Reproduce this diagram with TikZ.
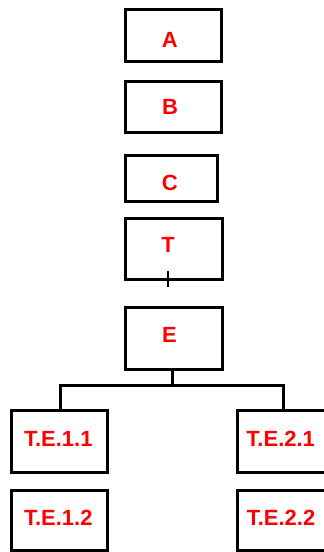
\documentclass[tikz,border=0pt]{standalone}
\usepackage{fontspec}
\setmainfont{Liberation Sans}
\begin{document}
\begin{tikzpicture}[x=1pt,y=-1pt,
  box/.style={draw=black,line width=3pt,fill=white,minimum width=#1,inner sep=0pt,outer sep=0pt},
  lbl/.style={text=red,font=\fontsize{22}{26}\selectfont\bfseries,inner sep=0pt},
  wire/.style={draw=black,line width=3pt}]
\useasboundingbox (0,0) rectangle (324,552);
\clip (0,0) rectangle (324,552);
% upper column of boxes
\node[box=95.5pt,minimum height=52pt] (A) at (173.25,35.5) {};
\node[box=95.5pt,minimum height=51pt] (B) at (173.25,107) {};
\node[box=92pt,minimum height=46pt] (C) at (171.5,178.5) {};
\node[box=97pt,minimum height=61pt] (T) at (174,249) {};
\node[box=97pt,minimum height=62pt] (E) at (174,338.5) {};
% lower pairs
\node[box=96pt,minimum height=62pt] (T11) at (59.5,441.5) {};
\node[box=96pt,minimum height=60pt] (T12) at (59.5,520.5) {};
\node[box=96pt,minimum height=62pt] (T21) at (285.5,441.5) {};
\node[box=96pt,minimum height=60pt] (T22) at (285.5,520.5) {};
% labels
\node[lbl] (tA) at (169.7,39.8) {A};
\node[lbl] (tB) at (170,106.7) {B};
\node[lbl] (tC) at (169.7,182.5) {C};
\node[lbl] (tT) at (168,245) {T};
\node[lbl] (tE) at (169.5,334.5) {E};
\node[lbl] (t11) at (58.3,438.5) {T.E.1.1};
\node[lbl] (t12) at (58.3,517.5) {T.E.1.2};
\node[lbl] (t21) at (280.7,438.5) {T.E.2.1};
\node[lbl] (t22) at (281,517.5) {T.E.2.2};
% short mark across the bottom edge of T
\coordinate (tk1) at (168,271);
\coordinate (tk2) at (168,287);
\draw[line width=2pt] (tk1) -- (tk2);
% branching from E to its two children
\coordinate (jn) at (172,385.5);
\draw[wire] (E.south -| jn) -- (jn);
\draw[wire] ([xshift=0.5pt]T11.north) |- (jn) -| ([xshift=-2.5pt]T21.north);
\end{tikzpicture}
\end{document}
